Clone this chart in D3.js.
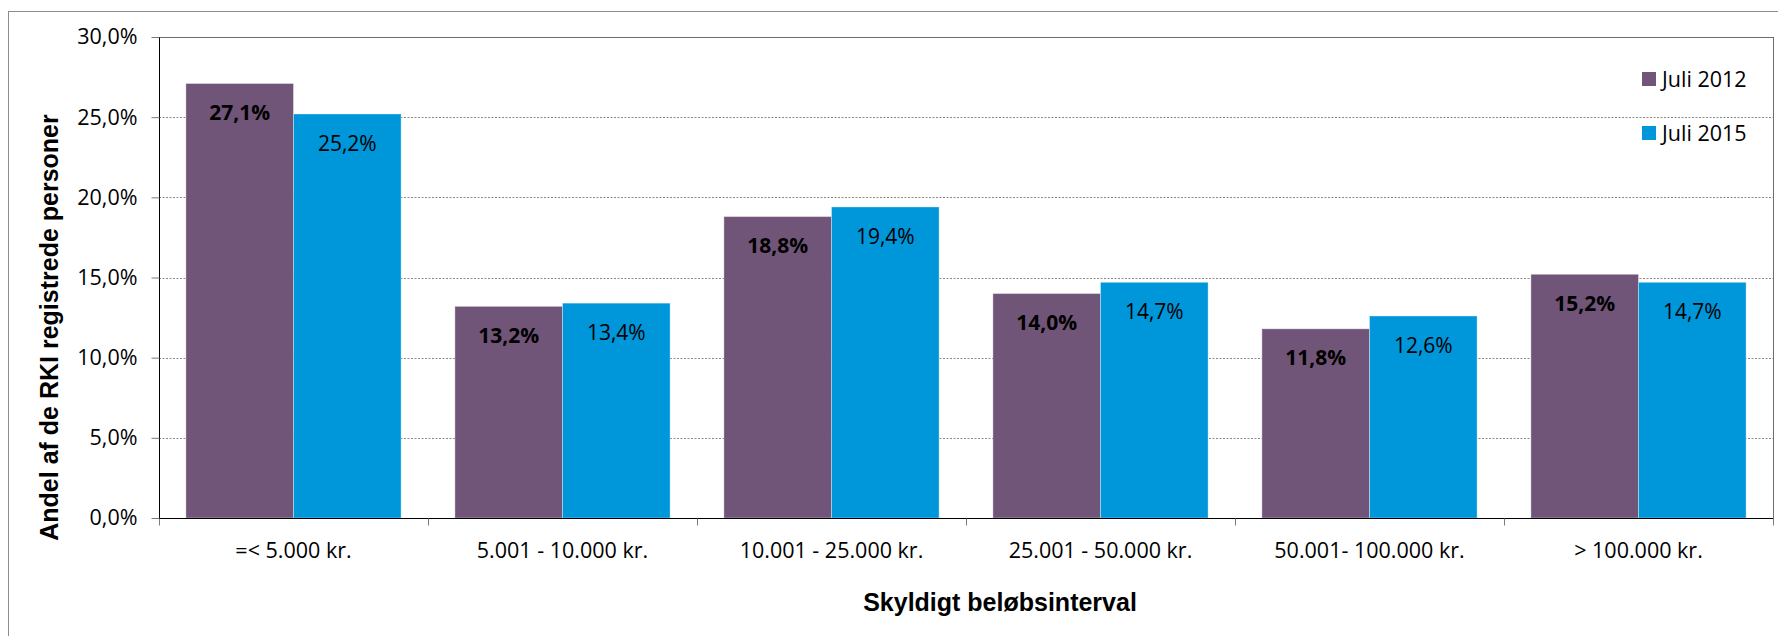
<!DOCTYPE html>
<html>
<head>
<meta charset="utf-8">
<script src="https://cdn.jsdelivr.net/npm/d3@7"></script>
<style>
  html, body { margin: 0; padding: 0; background: #fff; }
  svg { display: block; }
</style>
</head>
<body>
<svg id="chart" width="1778" height="636"></svg>
<script>
const categories = ["=< 5.000 kr.", "5.001 - 10.000 kr.", "10.001 - 25.000 kr.", "25.001 - 50.000 kr.", "50.001- 100.000 kr.", "> 100.000 kr."];
const seriesNames = ["Juli 2012", "Juli 2015"];
const values2012 = [27.1, 13.2, 18.8, 14.0, 11.8, 15.2];
const values2015 = [25.2, 13.4, 19.4, 14.7, 12.6, 14.7];
const yTicks = [0, 5, 10, 15, 20, 25, 30];
const colors = ["#715579", "#0096DA"];
const yTitle = "Andel af de RKI registrede personer";
const xTitle = "Skyldigt beløbsinterval";

(function () {
const seriesValues = [values2012, values2015];
const data = categories.map((c, i) => ({cat: c, vals: seriesNames.map((s, j) => ({s, j, v: seriesValues[j][i]}))}));

const svg = d3.select("#chart");
const pLeft = 159, pRight = 1773, pTop = 37, pBottom = 518;
const font = "'Open Sans', sans-serif";
const titleFont = "'Liberation Sans', Arial, sans-serif";

// outer chart border
svg.append("rect").attr("x", 8.5).attr("y", 11.5).attr("width", 1800).attr("height", 700)
  .attr("fill", "none").attr("stroke", "#8c8c8c").attr("stroke-width", 1);

const x0 = d3.scaleBand().domain(categories).range([pLeft, pRight]).paddingInner(0).paddingOuter(0);
const x1 = d3.scaleBand().domain(seriesNames).range([0, x0.bandwidth()]).paddingInner(0).paddingOuter(0.25);
const y = d3.scaleLinear().domain([0, 30]).range([pBottom, pTop]);

// gridlines
svg.append("g").selectAll("line").data(yTicks.filter(t => t > 0 && t < 30)).join("line")
  .attr("x1", pLeft).attr("x2", pRight)
  .attr("y1", d => Math.round(y(d)) + 0.5).attr("y2", d => Math.round(y(d)) + 0.5)
  .attr("stroke", "#8a8a8a").attr("stroke-width", 1).attr("stroke-dasharray", "2,1.5");

// plot area border
svg.append("rect").attr("x", pLeft + 0.5).attr("y", Math.round(y(30)) + 0.5)
  .attr("width", pRight - pLeft).attr("height", pBottom - Math.round(y(30)))
  .attr("fill", "none").attr("stroke", "#6e6e6e").attr("stroke-width", 1);

// bars
const groups = svg.append("g").selectAll("g").data(data).join("g")
  .attr("transform", d => `translate(${x0(d.cat)},0)`);
groups.selectAll("rect").data(d => d.vals).join("rect")
  .attr("x", d => x1(d.s)).attr("width", x1.bandwidth())
  .attr("y", d => y(d.v)).attr("height", d => y(0) - y(d.v))
  .attr("fill", d => colors[d.j])
  .attr("stroke", "rgba(255,255,255,0.35)").attr("stroke-width", 1);

// data labels
const fmt = v => d3.format(".1f")(v).replace(".", ",") + "%";
groups.selectAll("text").data(d => d.vals).join("text")
  .attr("x", d => x1(d.s) + x1.bandwidth() / 2)
  .attr("y", d => y(d.v) + 29)
  .attr("dy", "0.36em")
  .attr("text-anchor", "middle")
  .attr("font-family", font).attr("font-size", "21px")
  .attr("font-weight", d => d.j === 0 ? "bold" : "normal")
  .attr("fill", "#000")
  .text(d => fmt(d.v));

// y axis
const yAxis = d3.axisLeft(y).tickValues(yTicks).tickSize(8).tickPadding(14)
  .tickFormat(d => d3.format(".1f")(d).replace(".", ",") + "%");
const gy = svg.append("g").attr("transform", `translate(${pLeft + 0.5},0)`).call(yAxis);
gy.select(".domain").attr("stroke", "#000").attr("d", `M0,${pTop}V${pBottom}`);
gy.selectAll(".tick line").attr("stroke", "#7a7a7a");
gy.selectAll(".tick text").attr("font-family", font).attr("font-size", "21.5px").attr("fill", "#000");

// x axis
const gx = svg.append("g").attr("transform", `translate(0,${pBottom + 0.5})`);
gx.append("line").attr("x1", pLeft).attr("x2", pRight).attr("stroke", "#000");
const boundaries = categories.map(c => x0(c)).concat([x0(categories[categories.length - 1]) + x0.bandwidth()]);
gx.selectAll("line.tk").data(boundaries).join("line").attr("class", "tk")
  .attr("x1", d => Math.round(d) + 0.5).attr("x2", d => Math.round(d) + 0.5)
  .attr("y1", 0).attr("y2", 7).attr("stroke", "#7a7a7a");
gx.selectAll("text").data(categories).join("text")
  .attr("x", d => x0(d) + x0.bandwidth() / 2).attr("y", 39)
  .attr("text-anchor", "middle")
  .attr("font-family", font).attr("font-size", "21.5px").attr("fill", "#000")
  .text(d => d);

// axis titles
svg.append("text").attr("transform", `translate(58,327.5) rotate(-90)`)
  .attr("text-anchor", "middle").attr("font-family", titleFont).attr("font-weight", "bold")
  .attr("font-size", "25px").attr("fill", "#000").text(yTitle);
svg.append("text").attr("x", 1000).attr("y", 611)
  .attr("text-anchor", "middle").attr("font-family", titleFont).attr("font-weight", "bold")
  .attr("font-size", "25px").attr("fill", "#000").text(xTitle);

// legend
const lg = svg.append("g").selectAll("g").data(seriesNames).join("g")
  .attr("transform", (d, i) => `translate(1642,${72 + i * 54})`);
lg.append("rect").attr("width", 14).attr("height", 14).attr("fill", (d, i) => colors[i]);
lg.append("text").attr("x", 20).attr("y", 7).attr("dy", "0.36em")
  .attr("font-family", font).attr("font-size", "21.5px").attr("fill", "#000").text(d => d);
})();
</script>
</body>
</html>
